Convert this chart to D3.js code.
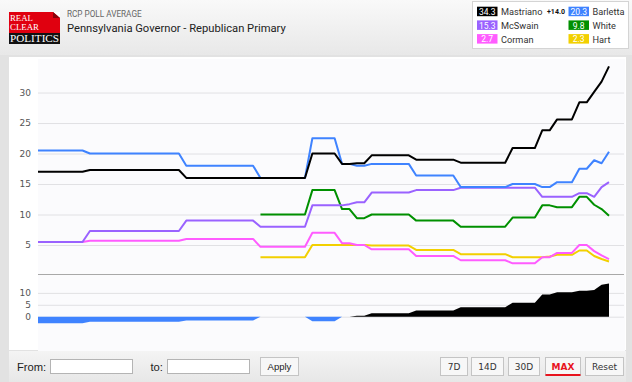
<!DOCTYPE html>
<html>
<head>
<meta charset="utf-8">
<script src="https://cdn.jsdelivr.net/npm/d3@7"></script>
<style>
  body { margin: 0; background: #e2e2e2; }
  svg { display: block; }
</style>
</head>
<body>
<div id="vis"></div>
<script>
// daily RCP averages, March 1 to May 17 2022
const startDay = new Date(2022, 2, 1);
const endDay = new Date(2022, 4, 17);

const mastriano = [17.0, 17.0, 17.0, 17.0, 17.0, 17.0, 17.0,
  17.3, 17.3, 17.3, 17.3, 17.3, 17.3, 17.3, 17.3, 17.3, 17.3, 17.3, 17.3, 17.3,
  16.0, 16.0, 16.0, 16.0, 16.0, 16.0, 16.0, 16.0, 16.0, 16.0, 16.0, 16.0, 16.0, 16.0, 16.0, 16.0, 16.0,
  20.0, 20.0, 20.0, 20.0, 18.3, 18.3, 18.4, 18.4,
  19.7, 19.7, 19.7, 19.7, 19.7, 19.7, 19.0, 19.0, 19.0, 19.0, 19.0, 19.0,
  18.5, 18.5, 18.5, 18.5, 18.5, 18.5, 18.5, 20.9, 20.9, 20.9, 20.9,
  23.8, 23.8, 25.6, 25.6, 25.6, 28.4, 28.4, 30.1, 31.8, 34.3];
const barletta = [20.5, 20.5, 20.5, 20.5, 20.5, 20.5, 20.5,
  20.0, 20.0, 20.0, 20.0, 20.0, 20.0, 20.0, 20.0, 20.0, 20.0, 20.0, 20.0, 20.0,
  18.0, 18.0, 18.0, 18.0, 18.0, 18.0, 18.0, 18.0, 18.0, 18.0,
  16.0, 16.0, 16.0, 16.0, 16.0, 16.0, 16.0,
  22.5, 22.5, 22.5, 22.5, 18.3, 18.3, 18.0, 18.0,
  18.3, 18.3, 18.3, 18.3, 18.3, 18.3, 16.4, 16.4, 16.4, 16.4, 16.4, 16.4,
  14.5, 14.5, 14.5, 14.5, 14.5, 14.5, 14.5, 15.0, 15.0, 15.0, 15.0,
  14.5, 14.5, 15.3, 15.3, 15.3, 17.5, 17.5, 18.9, 18.4, 20.3];
const mcswain = [5.5, 5.5, 5.5, 5.5, 5.5, 5.5, 5.5,
  7.3, 7.3, 7.3, 7.3, 7.3, 7.3, 7.3, 7.3, 7.3, 7.3, 7.3, 7.3, 7.3,
  9.0, 9.0, 9.0, 9.0, 9.0, 9.0, 9.0, 9.0, 9.0, 9.0,
  8.0, 8.0, 8.0, 8.0, 8.0, 8.0, 8.0,
  11.5, 11.5, 11.5, 11.5, 11.5, 11.7, 12.0, 12.0,
  13.6, 13.6, 13.6, 13.6, 13.6, 13.6, 14.0, 14.0, 14.0, 14.0, 14.0, 14.0,
  14.4, 14.4, 14.4, 14.4, 14.4, 14.4, 14.4, 14.4, 14.4, 14.4, 14.4,
  12.9, 12.9, 12.9, 12.9, 12.9, 13.5, 13.5, 12.9, 14.5, 15.3];
const white = [null, null, null, null, null, null, null, null, null, null,
  null, null, null, null, null, null, null, null, null, null,
  null, null, null, null, null, null, null, null, null, null,
  10.0, 10.0, 10.0, 10.0, 10.0, 10.0, 10.0,
  14.0, 14.0, 14.0, 14.0, 10.9, 10.9, 9.4, 9.4,
  10.0, 10.0, 10.0, 10.0, 10.0, 10.0, 9.0, 9.0, 9.0, 9.0, 9.0, 9.0,
  8.0, 8.0, 8.0, 8.0, 8.0, 8.0, 8.0, 9.5, 9.5, 9.5, 9.5,
  11.5, 11.5, 11.2, 11.2, 11.2, 12.9, 12.9, 11.6, 10.9, 9.8];
const corman = [5.5, 5.5, 5.5, 5.5, 5.5, 5.5, 5.5,
  5.7, 5.7, 5.7, 5.7, 5.7, 5.7, 5.7, 5.7, 5.7, 5.7, 5.7, 5.7, 5.7,
  6.0, 6.0, 6.0, 6.0, 6.0, 6.0, 6.0, 6.0, 6.0, 6.0,
  4.7, 4.7, 4.7, 4.7, 4.7, 4.7, 4.7,
  7.0, 7.0, 7.0, 7.0, 5.3, 5.3, 5.0, 5.0,
  4.3, 4.3, 4.3, 4.3, 4.3, 4.3, 3.2, 3.2, 3.2, 3.2, 3.2, 3.2,
  2.5, 2.5, 2.5, 2.5, 2.5, 2.5, 2.5, 2.0, 2.0, 2.0, 2.0,
  3.0, 3.0, 3.7, 3.7, 3.7, 5.0, 5.0, 4.0, 3.3, 2.7];
const hart = [null, null, null, null, null, null, null, null, null, null,
  null, null, null, null, null, null, null, null, null, null,
  null, null, null, null, null, null, null, null, null, null,
  3.0, 3.0, 3.0, 3.0, 3.0, 3.0, 3.0,
  5.0, 5.0, 5.0, 5.0, 5.0, 5.0, 5.0, 5.0,
  4.9, 4.9, 4.9, 4.9, 4.9, 4.9, 4.2, 4.2, 4.2, 4.2, 4.2, 4.2,
  3.5, 3.5, 3.5, 3.5, 3.5, 3.5, 3.5, 3.0, 3.0, 3.0, 3.0,
  3.0, 3.1, 3.4, 3.4, 3.4, 4.1, 4.1, 3.2, 2.7, 2.3];

const mainTicks = [5, 10, 15, 20, 25, 30];
const spreadTicks = [0, 5, 10];
const rangeButtons = ["7D", "14D", "30D", "MAX", "Reset"];

const width = 632;
const height = 382;

const days = d3.timeDay.range(startDay, d3.timeDay.offset(endDay, 1));

// series in the order they are drawn (first drawn at the bottom)
const series = [
  { name: "Hart", values: hart, colour: "#f2d000" },
  { name: "Corman", values: corman, colour: "#ff5cff" },
  { name: "White", values: white, colour: "#009000" },
  { name: "McSwain", values: mcswain, colour: "#9a62ff" },
  { name: "Barletta", values: barletta, colour: "#3f83ff" },
  { name: "Mastriano", values: mastriano, colour: "#000000" }
];
const byName = {};
series.forEach(s => byName[s.name] = s);

const spread = days.map((d, i) => mastriano[i] - barletta[i]);

const svg = d3.select("#vis").append("svg")
  .attr("width", width)
  .attr("height", height)
  .style("font-family", "Roboto, sans-serif");

const defs = svg.append("defs");
const headGrad = defs.append("linearGradient").attr("id", "headGrad").attr("x1", 0).attr("x2", 0).attr("y1", 0).attr("y2", 1);
headGrad.append("stop").attr("offset", "0%").attr("stop-color", "#f9f9f9");
headGrad.append("stop").attr("offset", "100%").attr("stop-color", "#e8e8e8");
const footGrad = defs.append("linearGradient").attr("id", "footGrad").attr("x1", 0).attr("x2", 0).attr("y1", 0).attr("y2", 1);
footGrad.append("stop").attr("offset", "0%").attr("stop-color", "#f4f4f4");
footGrad.append("stop").attr("offset", "100%").attr("stop-color", "#e7e7e7");

defs.append("clipPath").attr("id", "mainClip")
  .append("rect").attr("x", 38).attr("y", 59).attr("width", 586).attr("height", 215);
defs.append("clipPath").attr("id", "lowClip")
  .append("rect").attr("x", 38).attr("y", 275).attr("width", 586).attr("height", 75);

// frame
svg.append("rect").attr("width", width).attr("height", height).attr("fill", "#e2e2e2");
svg.append("rect").attr("width", width).attr("height", 55).attr("fill", "url(#headGrad)");
svg.append("rect").attr("x", 9).attr("y", 57).attr("width", 617).attr("height", 293).attr("fill", "#ffffff");
svg.append("rect").attr("x", 38).attr("y", 59).attr("width", 587).attr("height", 292).attr("fill", "#fbfbfd");
svg.append("rect").attr("x", 9).attr("y", 351).attr("width", 617).attr("height", 31).attr("fill", "url(#footGrad)");

// logo
const logo = svg.append("g");
logo.append("rect").attr("x", 9).attr("y", 12).attr("width", 51).attr("height", 22).attr("fill", "#e0000f");
logo.append("path").attr("d", "M53,12 L60,12 L60,18 Z").attr("fill", "#ffffff");
logo.append("path").attr("d", "M53,12 L60,18 L53,18 Z").attr("fill", "#8a0008");
logo.append("rect").attr("x", 9).attr("y", 33).attr("width", 51).attr("height", 11).attr("fill", "#111111");
logo.selectAll("text.logo")
  .data([["REAL", 21, 23], ["CLEAR", 29.5, 29], ["POLITICS", 42.3, 49]])
  .enter().append("text")
  .attr("x", 10).attr("y", d => d[1])
  .attr("textLength", d => d[2]).attr("lengthAdjust", "spacingAndGlyphs")
  .style("font-family", "'Liberation Serif', serif")
  .style("font-size", (d, i) => i === 2 ? "11px" : "8.5px")
  .attr("fill", "#ffffff")
  .text(d => d[0]);

svg.append("text").attr("x", 67).attr("y", 17)
  .style("font-size", "8.2px").attr("fill", "#666")
  .text("RCP POLL AVERAGE");
svg.append("text").attr("x", 67).attr("y", 32)
  .style("font-size", "11.2px").attr("fill", "#222")
  .text("Pennsylvania Governor - Republican Primary");

// legend
const legend = svg.append("g");
legend.append("rect").attr("x", 472.5).attr("y", 1.5).attr("width", 156).attr("height", 47)
  .attr("fill", "#fff").attr("stroke", "#d4d4d4");
const legendRows = [
  ["Mastriano", "Barletta"],
  ["McSwain", "White"],
  ["Corman", "Hart"]
];
const fmt = d3.format(".1f");
legendRows.forEach((row, r) => {
  const cy = 11.7 + r * 13.7;
  row.forEach((name, c) => {
    const s = byName[name];
    const bx = c === 0 ? 477 : 568.5;
    const g = legend.append("g");
    g.append("rect").attr("x", bx).attr("y", cy - 5).attr("width", 20.5).attr("height", 9.5).attr("fill", s.colour);
    g.append("text").attr("x", bx + 10.25).attr("y", cy + 3.2)
      .attr("text-anchor", "middle").style("font-size", "8.5px").attr("fill", "#fff")
      .text(fmt(s.values[s.values.length - 1]));
    g.append("text").attr("x", bx + 24).attr("y", cy + 3.5)
      .style("font-size", "9.2px").attr("fill", "#333")
      .text(name);
  });
});
legend.append("text").attr("x", 556).attr("y", 14.2).attr("text-anchor", "middle")
  .style("font-size", "7px").style("font-weight", "bold").attr("fill", "#111")
  .text("+" + fmt(spread[spread.length - 1]));

// scales
const x = d3.scaleTime().domain([startDay, endDay]).range([38, 609]);
const y = d3.scaleLinear().domain([0, 35.5]).range([275.5, 59]);
const ys = d3.scaleLinear().domain([-5, 0, 15]).range([326, 316.7, 281]);

// main y axis with gridlines
const yAxis = svg.append("g")
  .attr("transform", "translate(38,0)")
  .call(d3.axisLeft(y).tickValues(mainTicks).tickSize(-586).tickPadding(7));
yAxis.select(".domain").remove();
yAxis.selectAll("line").attr("stroke", "#e1e1e4");
yAxis.selectAll("text").style("font-family", "'DejaVu Sans', sans-serif").style("font-size", "9px").attr("fill", "#555");

// lower y axis
const sAxis = svg.append("g")
  .attr("transform", "translate(38,0)")
  .call(d3.axisLeft(ys).tickValues(spreadTicks).tickSize(-586).tickPadding(7));
sAxis.select(".domain").remove();
sAxis.selectAll("line").attr("stroke", "#e1e1e4");
sAxis.selectAll("text").style("font-family", "'DejaVu Sans', sans-serif").style("font-size", "9px").attr("fill", "#555");

// pane separator
svg.append("line").attr("x1", 38).attr("x2", 624).attr("y1", 274.5).attr("y2", 274.5)
  .attr("stroke", "#a8a8a8");

// x axis labels
defs.append("clipPath").attr("id", "xClip")
  .append("rect").attr("x", 37).attr("y", 320).attr("width", 590).attr("height", 30);
const xAxis = svg.append("g")
  .attr("transform", "translate(0,330)")
  .attr("clip-path", "url(#xClip)")
  .call(d3.axisBottom(x).ticks(d3.timeMonth.every(1)).tickFormat(d3.timeFormat("%B")).tickSize(0).tickPadding(3));
xAxis.select(".domain").remove();
xAxis.selectAll("text").style("font-family", "'DejaVu Sans', sans-serif").style("font-size", "9px").attr("fill", "#555");

// lines
const line = d3.line()
  .defined(d => d != null)
  .x((d, i) => x(days[i]))
  .y(d => y(d));

svg.append("g").attr("clip-path", "url(#mainClip)")
  .selectAll("path")
  .data(series)
  .enter().append("path")
  .attr("d", d => line(d.values))
  .attr("fill", "none")
  .attr("stroke", d => d.colour)
  .attr("stroke-width", 2)
  .attr("stroke-linejoin", "round");

// spread area: black above zero (Mastriano ahead), blue below (Barletta ahead)
const lower = svg.append("g").attr("clip-path", "url(#lowClip)");
const posArea = d3.area()
  .x((d, i) => x(days[i]))
  .y0(ys(0))
  .y1(d => ys(Math.max(d, 0)));
const negArea = d3.area()
  .x((d, i) => x(days[i]))
  .y0(ys(0))
  .y1(d => ys(Math.min(d, 0)));
lower.append("path").attr("d", negArea(spread)).attr("fill", "#3f83ff");
lower.append("path").attr("d", posArea(spread)).attr("fill", "#000");

// bottom toolbar
const bar = svg.append("g").style("font-family", "'Liberation Sans', Arial, sans-serif");
bar.append("text").attr("x", 17).attr("y", 371).style("font-size", "11.2px").attr("fill", "#222").text("From:");
bar.append("rect").attr("x", 50.5).attr("y", 359.5).attr("width", 82).attr("height", 14).attr("fill", "#fff").attr("stroke", "#b4b4b4");
bar.append("text").attr("x", 150.5).attr("y", 371).style("font-size", "11.2px").attr("fill", "#222").text("to:");
bar.append("rect").attr("x", 167.5).attr("y", 359.5).attr("width", 82).attr("height", 14).attr("fill", "#fff").attr("stroke", "#b4b4b4");
bar.append("rect").attr("x", 260.5).attr("y", 357.5).attr("width", 38).attr("height", 18).attr("fill", "#f7f7f7").attr("stroke", "#c4c4c4");
bar.append("text").attr("x", 279.5).attr("y", 370).attr("text-anchor", "middle").style("font-size", "9.5px").attr("fill", "#222").text("Apply");

const btnX = [440.5, 471.5, 508.5, 545.5, 585.5];
const btnW = [27, 32, 31, 35, 38];
rangeButtons.forEach((label, i) => {
  bar.append("rect").attr("x", btnX[i]).attr("y", 357.5).attr("width", btnW[i]).attr("height", 18)
    .attr("fill", "#f7f7f7").attr("stroke", "#c4c4c4");
  bar.append("text").attr("x", btnX[i] + btnW[i] / 2).attr("y", 370)
    .attr("text-anchor", "middle")
    .style("font-family", "'DejaVu Sans', sans-serif")
    .style("font-size", "9px")
    .attr("fill", label === "MAX" ? "#e8141e" : "#333")
    .style("font-weight", label === "MAX" ? "bold" : "normal")
    .text(label);
  if (label === "MAX") {
    bar.append("rect").attr("x", btnX[i]).attr("y", 374).attr("width", btnW[i]).attr("height", 2).attr("fill", "#e8141e");
  }
});
</script>
</body>
</html>
